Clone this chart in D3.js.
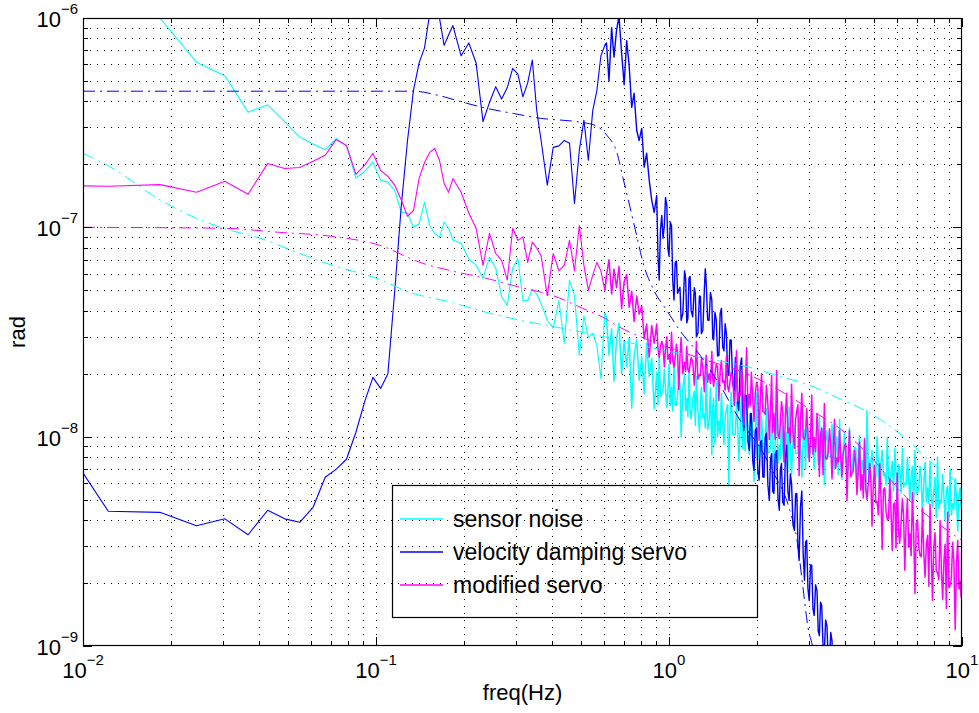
<!DOCTYPE html>
<html><head><meta charset="utf-8">
<script src="https://cdn.jsdelivr.net/npm/d3@7"></script>
<style>
body{margin:0;background:#fff}
text{font-family:"Liberation Sans",Arial,Helvetica,sans-serif;fill:#000}
</style>
</head><body>
<svg id="chart" width="979" height="713"></svg>
<script>
// ---------------- data ----------------
const freq = [
0.0061,0.0122,0.0183,0.0244,0.0305,0.0366,0.0427,0.0488,0.0549,0.0610,
0.0671,0.0732,0.0793,0.0854,0.0915,0.0976,0.1037,0.1098,0.1159,0.1220,
0.1281,0.1342,0.1403,0.1464,0.1525,0.1586,0.1647,0.1708,0.1769,0.1830,
0.1952,0.2074,0.2196,0.2318,0.2440,0.2562,0.2684,0.2806,0.2928,0.3050,
0.3172,0.3294,0.3416,0.3538,0.3660,
0.3843,0.4026,0.4209,0.4392,0.4575,0.4758,0.4941,0.5124,0.5307,0.5490,0.5673,0.5856,0.6039,
0.612,0.624,0.637,0.649,0.662,0.675,0.689,0.703,0.717,0.731,
0.746,0.760,0.776,0.791,0.807,0.823,0.839,0.856,0.873,0.890,
0.908,0.926,0.945,0.964,0.983,1.00,1.02,1.04,1.06,1.08,
1.10,1.13,1.15,1.17,1.19,1.22,1.24,1.27,1.29,1.32,
1.34,1.37,1.40,1.42,1.45,1.48,1.51,1.54,1.57,1.60,
1.63,1.67,1.70,1.73,1.77,1.80,1.84,1.88,1.91,1.95,
1.99,2.03,2.07,2.11,2.15,2.20,2.24,2.28,2.33,2.38,
2.42,2.47,2.52,2.57,2.62,2.68,2.73,2.78,2.84,2.90,
2.95,3.01,3.07,3.13,3.20,3.26,3.32,3.39,3.46,3.53,
3.60,3.67,3.74,3.82,3.89,3.97,4.05,4.13,4.21,4.30,
4.38,4.47,4.56,4.65,4.74,4.84,4.93,5.03,5.13,5.24,
5.34,5.45,5.56,5.67,5.78,5.90,6.01,6.13,6.26,6.38,
6.51,6.64,6.77,6.91,7.05,7.19,7.33,7.48,7.63,7.78,
7.93,8.09,8.25,8.42,8.59,8.76,8.93,9.11,9.29,9.48,
9.67,9.86,10.0
];

const sensorNoise = [
2.0e-6,1.4e-6,1.0e-6,6.15e-7,5.3e-7,3.55e-7,3.85e-7,3.2e-7,2.7e-7,2.5e-7,
2.35e-7,2.65e-7,2.45e-7,1.72e-7,1.85e-7,2.05e-7,1.68e-7,1.64e-7,1.5e-7,1.18e-7,
1.17e-7,1.0e-7,1.04e-7,1.32e-7,1.02e-7,9.35e-8,8.95e-8,1.06e-7,9.9e-8,8.7e-8,
8.4e-8,7.05e-8,6.6e-8,5.7e-8,7.2e-8,6.4e-8,4.67e-8,4.24e-8,6.4e-8,7.1e-8,4.47e-8,4.47e-8,5.05e-8,4.8e-8,4.33e-8,
3.6e-8,3.3e-8,4.47e-8,2.79e-8,5.58e-8,4.72e-8,2.45e-8,3.78e-8,2.98e-8,3.12e-8,2.73e-8,1.9e-8,3.9e-8,
3.7e-8,2.45e-8,3.28e-8,1.84e-8,2.9e-8,3.48e-8,2.0e-8,2.85e-8,2.16e-8,2.95e-8,
1.37e-8,2.43e-8,2.9e-8,1.86e-8,2.4e-8,1.61e-8,2.8e-8,1.94e-8,2.37e-8,1.36e-8,
2.03e-8,2.43e-8,1.61e-8,2.1e-8,1.38e-8,2.22e-8,1.72e-8,2.37e-8,1.41e-8,1.88e-8,
1.0e-8,2.0e-8,1.52e-8,2.12e-8,1.22e-8,1.65e-8,1.94e-8,1.05e-8,1.72e-8,1.28e-8,
2.03e-8,1.17e-8,8.2e-9,1.52e-8,1.82e-8,1.19e-8,1.61e-8,9.2e-9,1.35e-8,5.85e-9,
1.63e-8,1.02e-8,1.46e-8,7.7e-9,1.66e-8,1.12e-8,1.43e-8,8.2e-9,1.25e-8,6.1e-9,
1.61e-8,9.1e-9,1.25e-8,6.9e-9,1.36e-8,8.4e-9,1.14e-8,5.5e-9,1.38e-8,9.1e-9,
1.22e-8,7.5e-9,1.05e-8,1.39e-8,6.6e-9,1.13e-8,8.3e-9,1.24e-8,6.4e-9,1.08e-8,
1.32e-8,8.0e-9,1.15e-8,7.0e-9,9.8e-9,1.24e-8,8.6e-9,5.9e-9,1.07e-8,8.0e-9,
1.14e-8,7.0e-9,1.0e-8,1.21e-8,6.25e-9,1.05e-8,7.9e-9,1.1e-8,6.8e-9,8.9e-9,
5.5e-9,1.01e-8,7.7e-9,9.6e-9,1.33e-8,6.1e-9,8.6e-9,6.7e-9,1.0e-8,5.35e-9,
8.6e-9,6.7e-9,9.9e-9,5.85e-9,7.6e-9,8.8e-9,4.85e-9,7.1e-9,8.8e-9,6.0e-9,
7.95e-9,5.0e-9,7.2e-9,8.6e-9,5.4e-9,7.2e-9,4.15e-9,7.55e-9,5.7e-9,7.6e-9,
4.6e-9,6.4e-9,7.9e-9,4.96e-9,6.6e-9,3.95e-9,5.8e-9,7.0e-9,4.8e-9,6.3e-9,
3.54e-9,5.7e-9,4.44e-9
];

const velocityServo = [
1.92e-8,4.4e-9,4.35e-9,3.75e-9,4.05e-9,3.4e-9,4.45e-9,4.05e-9,3.9e-9,4.6e-9,
6.4e-9,7.0e-9,7.8e-9,1.05e-8,1.47e-8,1.92e-8,1.7e-8,2.0e-8,5.0e-8,1.27e-7,
2.6e-7,4.5e-7,6.1e-7,7.2e-7,1.05e-6,1.15e-6,1.0e-6,7.4e-7,8.3e-7,9.2e-7,
6.6e-7,7.6e-7,6.1e-7,3.2e-7,3.95e-7,4.7e-7,4.1e-7,4.65e-7,5.75e-7,5.4e-7,4.2e-7,4.9e-7,6.3e-7,3.6e-7,2.6e-7,
1.59e-7,2.41e-7,2.45e-7,2.6e-7,2.52e-7,1.3e-7,2.33e-7,3.25e-7,2.09e-7,3.6e-7,4.5e-7,6.6e-7,7.4e-7,
7.6e-7,5.0e-7,9.0e-7,6.5e-7,8.7e-7,1.02e-6,6.8e-7,4.8e-7,7.8e-7,5.95e-7,
3.74e-7,4.37e-7,2.9e-7,2.6e-7,2.97e-7,1.94e-7,2.26e-7,1.68e-7,1.35e-7,1.18e-7,
1.42e-7,5.6e-8,1.14e-7,1.02e-7,1.27e-7,7.3e-8,1.02e-7,4.5e-8,6.9e-8,5.0e-8,
3.6e-8,6.2e-8,3.5e-8,5.7e-8,4.0e-8,5.15e-8,3.0e-8,4.7e-8,3.1e-8,5.0e-8,
5.4e-8,3.6e-8,4.5e-8,2.9e-8,3.6e-8,2.44e-8,4.1e-8,2.57e-8,3.1e-8,1.96e-8,
2.9e-8,1.66e-8,2.3e-8,1.33e-8,2.38e-8,1.07e-8,1.57e-8,8.6e-9,1.29e-8,6.9e-9,
1.1e-8,6.2e-9,9.6e-9,6.4e-9,1.04e-8,4.95e-9,8.3e-9,5.35e-9,8.6e-9,4.45e-9,
7.45e-9,4.7e-9,9.1e-9,4.95e-9,6.0e-9,3.57e-9,5.35e-9,2.56e-9,5.5e-9,2.06e-9,
3.2e-9,1.65e-9,2.43e-9,1.4e-9,1.84e-9,1.12e-9,1.56e-9,9.5e-10,1.25e-9,8.5e-10,
1.06e-9,6.8e-10,9.0e-10,5.5e-10
];

const modifiedServo = [
1.6e-7,1.57e-7,1.6e-7,1.47e-7,1.66e-7,1.44e-7,2.02e-7,1.91e-7,1.93e-7,2.07e-7,
2.21e-7,2.63e-7,2.46e-7,1.79e-7,1.98e-7,2.26e-7,1.87e-7,1.75e-7,1.59e-7,1.35e-7,
1.13e-7,1.2e-7,1.71e-7,2.04e-7,2.28e-7,2.38e-7,2.09e-7,1.62e-7,1.47e-7,1.71e-7,
1.47e-7,1.17e-7,9.9e-8,6.58e-8,9.36e-8,7.5e-8,6.95e-8,5.6e-8,9.9e-8,8.66e-8,9.0e-8,6.8e-8,8.5e-8,7.96e-8,7.3e-8,
4.72e-8,7.5e-8,6.2e-8,6.58e-8,8.66e-8,6.2e-8,1.02e-7,6.58e-8,5.0e-8,5.9e-8,6.8e-8,6.2e-8,5.0e-8,
5.9e-8,7.0e-8,4.8e-8,6.3e-8,5.15e-8,6.5e-8,4.1e-8,5.5e-8,5.95e-8,4.15e-8,
4.95e-8,3.55e-8,4.7e-8,3.85e-8,4.2e-8,2.95e-8,3.45e-8,2.4e-8,3.4e-8,2.8e-8,
3.45e-8,2.39e-8,2.85e-8,2.16e-8,3.0e-8,2.45e-8,3.15e-8,2.15e-8,2.76e-8,1.68e-8,
2.98e-8,2.27e-8,2.7e-8,2.03e-8,2.39e-8,1.76e-8,2.85e-8,1.98e-8,2.37e-8,1.64e-8,
2.45e-8,2.0e-8,2.55e-8,1.74e-8,2.22e-8,1.49e-8,2.31e-8,1.85e-8,2.42e-8,1.64e-8,
2.03e-8,1.41e-8,2.58e-8,1.61e-8,2.07e-8,1.14e-8,2.67e-8,1.59e-8,2.03e-8,1.18e-8,
1.82e-8,9.6e-9,2.0e-8,1.31e-8,1.76e-8,9.7e-9,1.96e-8,1.29e-8,2.07e-8,9.8e-9,
1.47e-8,7.6e-9,1.61e-8,1.1e-8,1.78e-8,8.8e-9,1.33e-8,6.5e-9,1.61e-8,9.7e-9,
1.36e-8,7.6e-9,1.58e-8,9.9e-9,1.29e-8,6.45e-9,1.1e-8,1.44e-8,7.8e-9,1.09e-8,
6.3e-9,1.21e-8,7.9e-9,1.07e-8,6.45e-9,9.0e-9,4.96e-9,1.07e-8,6.7e-9,8.6e-9,
5.3e-9,9.4e-9,6.6e-9,9.8e-9,5.0e-9,7.45e-9,3.73e-9,7.3e-9,4.9e-9,7.45e-9,
2.9e-9,5.7e-9,4.0e-9,6.3e-9,2.86e-9,4.85e-9,6.7e-9,3.1e-9,5.05e-9,2.3e-9,
5.05e-9,3.45e-9,5.4e-9,1.78e-9,4.0e-9,2.7e-9,4.55e-9,2.13e-9,3.37e-9,4.74e-9,
1.65e-9,3.48e-9,2.25e-9,3.98e-9,1.67e-9,3.06e-9,4.35e-9,1.95e-9,3.13e-9,1.2e-9,
3.2e-9,2.03e-9,3.48e-9
];

// extra in-between frequency bins of the dense high-frequency part
const freqMid = [
0.917,0.935,0.954,0.973,0.991,1.01,1.03,1.05,1.07,1.09,
1.115,1.14,1.16,1.18,1.205,1.23,1.255,1.28,1.305,1.33,
1.355,1.385,1.41,1.435,1.465,1.495,1.525,1.555,1.585,1.615,
1.65,1.685,1.715,1.75,1.785,1.82,1.86,1.895,1.93,1.97,
2.01,2.05,2.09,2.13,2.175,2.22,2.26,2.305,2.355,2.40,
2.445,2.495,2.545,2.595,2.65,2.705,2.755,2.81,2.87,2.925,
2.98,3.04,3.10,3.165,3.23,3.29,3.355,3.425,3.495,3.565,
3.635,3.705,3.78,3.855,3.93,4.01,4.09,4.17,4.255,4.34,
4.425,4.515,4.605,4.695,4.79,4.885,4.98,5.08,5.185,5.29,
5.395,5.505,5.615,5.725,5.84,5.955,6.07,6.195,6.32,6.445,
6.575,6.705,6.84,6.98,7.12,7.26,7.405,7.555,7.705,7.855,
8.01,8.17,8.335,8.505,8.675,8.845,9.02,9.2,9.385,9.575,
9.765,9.93
];
const sensorNoiseMid = [
1.42e-8,1.56e-8,1.66e-8,1.71e-8,1.62e-8,1.41e-8,1.33e-8,1.42e-8,1.59e-8,1.8e-8,
1.69e-8,1.33e-8,1.25e-8,1.34e-8,1.51e-8,1.13e-8,1.33e-8,1.44e-8,1.23e-8,1.1e-8,
1.08e-8,1.71e-8,1.39e-8,9.2e-9,1.0e-8,1.03e-8,1.18e-8,1.23e-8,1.42e-8,1.21e-8,
1.03e-8,1.02e-8,1.17e-8,1.1e-8,8.76e-9,8.55e-9,9.86e-9,1.02e-8,1.11e-8,9.86e-9,
7.8e-9,8.6e-9,9.5e-9,9.4e-9,8.45e-9,8.85e-9,1.08e-8,9.7e-9,7.5e-9,7.8e-9,
8.65e-9,9.5e-9,6.8e-9,8.7e-9,9.5e-9,8.3e-9,8.3e-9,9.1e-9,9.9e-9,7.0e-9,
7.96e-9,8.7e-9,9.0e-9,9.8e-9,7.37e-9,7.67e-9,1.09e-8,9.55e-9,8.1e-9,8.0e-9,
8.25e-9,8.5e-9,6.6e-9,8.0e-9,8.25e-9,7.55e-9,6.9e-9,7.4e-9,8.25e-9,8.85e-9,
8.1e-9,6.6e-9,6.75e-9,5.5e-9,6.9e-9,7.4e-9,7.04e-9,6.4e-9,7.15e-9,7.4e-9,
6.5e-9,5.9e-9,6.3e-9,6.77e-9,5.5e-9,6.65e-9,7.4e-9,5.38e-9,5.73e-9,5.9e-9,
6.25e-9,6.4e-9,4.83e-9,5.35e-9,5.7e-9,6.3e-9,5.98e-9,4.88e-9,4.8e-9,5.12e-9,
5.45e-9,4.1e-9,4.55e-9,4.85e-9,5.18e-9,5.52e-9,3.96e-9,4.22e-9,4.52e-9,5.12e-9,
5.28e-9,4.63e-9
];
const velocityServoMid = [
7.3e-8,9.7e-8,8.87e-8,1.39e-7,7.95e-8,1.06e-7,5.56e-8,6.8e-8,4.84e-8,5.17e-8,
3.88e-8,5.7e-8,3.68e-8,5.83e-8,3.74e-8,4.84e-8,3.12e-8,4.68e-8,3.24e-8,6.34e-8,
3.61e-8,4.89e-8,2.95e-8,3.93e-8,2.43e-8,3.88e-8,2.68e-8,3.46e-8,2.03e-8,2.9e-8,
1.8e-8,2.39e-8,1.44e-8,2.18e-8,1.31e-8,1.58e-8,9.55e-9,1.29e-8,7.75e-9,1.07e-8,
6.8e-9,9.4e-9,6.43e-9,9.9e-9,5.9e-9,7.8e-9,5.48e-9,8.27e-9,5.07e-9,7.0e-9,
4.86e-9,7.96e-9,5.51e-9,6.63e-9,3.79e-9,5.33e-9,3.04e-9,4.6e-9,2.77e-9,3.13e-9,
1.88e-9,2.44e-9,1.51e-9,1.96e-9,1.18e-9,1.62e-9,1.0e-9,1.33e-9,8.5e-10,1.16e-9,
7.0e-10,9.6e-10,5.8e-10
];
const modifiedServoMid = [
2.63e-8,2.7e-8,2.72e-8,2.62e-8,2.34e-8,2.23e-8,2.3e-8,2.39e-8,2.5e-8,2.39e-8,
2.0e-8,2.05e-8,2.09e-8,2.19e-8,2.29e-8,2.07e-8,1.88e-8,1.96e-8,2.11e-8,2.1e-8,
1.82e-8,1.8e-8,1.9e-8,1.99e-8,2.15e-8,2.07e-8,1.82e-8,1.67e-8,1.74e-8,1.83e-8,
1.93e-8,1.7e-8,1.48e-8,1.57e-8,1.82e-8,1.65e-8,1.37e-8,1.4e-8,1.56e-8,1.6e-8,
1.72e-8,1.55e-8,1.32e-8,1.28e-8,1.43e-8,1.32e-8,1.05e-8,9.7e-9,1.04e-8,1.18e-8,
1.31e-8,1.24e-8,1.04e-8,9.3e-9,1.03e-8,1.21e-8,1.42e-8,1.19e-8,9.9e-9,1.02e-8,
1.05e-8,9.8e-9,8.25e-9,8.5e-9,1.01e-8,1.02e-8,6.6e-9,7.85e-9,8.45e-9,9.1e-9,
8.55e-9,7.05e-9,7.56e-9,8.13e-9,8.3e-9,9.27e-9,7.9e-9,6.44e-9,6.87e-9,7.36e-9,
6.86e-9,5.55e-9,5.09e-9,5.63e-9,5.97e-9,6.34e-9,5.82e-9,4.83e-9,4.22e-9,5.2e-9,
5.58e-9,4.42e-9,4.06e-9,4.37e-9,4.73e-9,2.94e-9,3.56e-9,3.86e-9,4.21e-9,3.85e-9,
2.96e-9,2.7e-9,3.52e-9,3.85e-9,2.94e-9,2.67e-9,2.76e-9,3.03e-9,1.93e-9,2.7e-9,
2.97e-9,2.26e-9,2.07e-9,2.28e-9,2.53e-9,1.51e-9,1.9e-9,2.11e-9,2.5e-9,2.46e-9,
1.87e-9,1.71e-9
];

// model curves (dash-dot)
const sensorModelFreq = [0.01,0.01266,0.0179,0.0232,0.0301,0.0402,0.0537,0.0713,0.1008,0.1306,0.179,0.239,0.31,0.415,0.595,0.861,1.276,1.894,2.39,3.02,3.81,4.74,5.81,6.78,7.95,8.87,10];
const sensorModel = [2.26e-7,1.91e-7,1.38e-7,1.14e-7,9.9e-8,8.87e-8,7.6e-8,6.57e-8,5.7e-8,4.89e-8,4.4e-8,3.92e-8,3.6e-8,3.33e-8,3.01e-8,2.67e-8,2.39e-8,2.14e-8,1.94e-8,1.76e-8,1.52e-8,1.32e-8,1.095e-8,9.15e-9,7.46e-9,6.67e-9,5.66e-9];

const velocityModelFreq = [0.01,0.135,0.163,0.2045,0.239,0.294,0.363,0.497,0.559,0.614,0.665,0.696,0.736,0.778,0.815,0.882,0.984,1.09,1.276,1.493,1.747,2.045,2.3,2.587,2.735,2.866,2.98,3.10,3.27];
const velocityModel = [4.47e-7,4.47e-7,4.27e-7,3.91e-7,3.7e-7,3.5e-7,3.32e-7,3.18e-7,3.07e-7,2.75e-7,2.26e-7,1.73e-7,1.25e-7,8.96e-8,6.8e-8,5.1e-8,4.0e-8,3.21e-8,2.45e-8,1.76e-8,1.2e-8,8.85e-9,6.53e-9,4.44e-9,3.2e-9,1.9e-9,1.23e-9,9.8e-10,6.0e-10];

const modifiedModelFreq = [0.01,0.0301,0.047,0.0713,0.1032,0.1413,0.183,0.239,0.31,0.4,0.508,0.595,0.68,0.861,1.065,1.276,1.84,2.39,3.19,3.81,4.74,6.46,10];
const modifiedModel = [1.0e-7,9.9e-8,9.46e-8,9.05e-8,8.2e-8,6.8e-8,6.17e-8,5.7e-8,5.17e-8,4.73e-8,4.1e-8,3.72e-8,3.33e-8,2.88e-8,2.58e-8,2.37e-8,2.0e-8,1.66e-8,1.29e-8,1.1e-8,8.35e-9,5.13e-9,3.2e-9];

const xTicks = [0.01, 0.1, 1, 10];
const xTickExp = ["\u22122", "\u22121", "0", "1"];
const yTicks = [1e-9, 1e-8, 1e-7, 1e-6];
const yTickExp = ["\u22129", "\u22128", "\u22127", "\u22126"];
const legendLabels = ["sensor noise", "velocity damping servo", "modified servo"];
const seriesColors = ["#00ffff", "#0000ff", "#ff00ff"];

// ---------------- drawing ----------------
const svg = d3.select("#chart");
const L = 83, T = 18, R = 962, B = 646;
const x = d3.scaleLog().domain([0.01, 10]).range([L, R]);
const y = d3.scaleLog().domain([1e-9, 1e-6]).range([B, T]);

svg.append("rect").attr("width", 979).attr("height", 713).attr("fill", "#fff");

const xGrid = [], yGrid = [];
[0.01, 0.1, 1].forEach(d => { for (let k = 1; k < 10; k++) xGrid.push(d * k); });
xGrid.push(10);
[1e-9, 1e-8, 1e-7].forEach(d => { for (let k = 1; k < 10; k++) yGrid.push(d * k); });
yGrid.push(1e-6);

const px = v => Math.round(x(v)) + 0.5;
const py = v => Math.round(y(v)) + 0.5;

const grid = svg.append("g").attr("stroke", "#000").attr("stroke-width", 1)
  .attr("stroke-dasharray", "1,6").attr("shape-rendering", "crispEdges");
xGrid.slice(1, -1).forEach(v => grid.append("line").attr("x1", px(v)).attr("x2", px(v)).attr("y1", T).attr("y2", B));
yGrid.slice(1, -1).forEach(v => grid.append("line").attr("y1", py(v)).attr("y2", py(v)).attr("x1", L).attr("x2", R));

svg.append("clipPath").attr("id", "clip").append("rect")
  .attr("x", L).attr("y", T).attr("width", R - L).attr("height", B - T);
const plot = svg.append("g").attr("clip-path", "url(#clip)");

const line = d3.line().x(d => x(d[0])).y(d => y(d[1]));
const smooth = d3.line().x(d => x(d[0])).y(d => y(d[1])).curve(d3.curveMonotoneX);

// measured spectra: merge main bins with the in-between bins, sorted by frequency
const solids = [[sensorNoise, sensorNoiseMid], [velocityServo, velocityServoMid], [modifiedServo, modifiedServoMid]];
const fSplit = 0.6039;
const hiWidths = [1.5, 1.4, 1.5];
solids.forEach(([vals, mids], i) => {
  const pts = vals.map((v, j) => [freq[j], v])
    .concat(mids.map((v, j) => [freqMid[j], v]))
    .sort((a, b) => a[0] - b[0]);
  plot.append("path").attr("d", line(pts.filter(d => d[0] <= fSplit + 0.01))).attr("fill", "none")
    .attr("stroke", seriesColors[i]).attr("stroke-width", 1.1).attr("stroke-linejoin", "round");
  plot.append("path").attr("d", line(pts.filter(d => d[0] >= fSplit))).attr("fill", "none")
    .attr("stroke", seriesColors[i]).attr("stroke-width", hiWidths[i]).attr("stroke-linejoin", "round");
});

const models = [[sensorModelFreq, sensorModel], [velocityModelFreq, velocityModel], [modifiedModelFreq, modifiedModel]];
models.forEach(([f, vals], i) => {
  const pts = vals.map((v, j) => [f[j], v]);
  plot.append("path").attr("d", smooth(pts)).attr("fill", "none")
    .attr("stroke", seriesColors[i]).attr("stroke-width", 1)
    .attr("stroke-dasharray", "12,5,2,5");
});

svg.append("rect").attr("x", L + 0.5).attr("y", T + 0.5).attr("width", R - L - 1).attr("height", B - T - 1)
  .attr("fill", "none").attr("stroke", "#000").attr("stroke-width", 1.2);

const tk = svg.append("g").attr("stroke", "#000").attr("stroke-width", 1).attr("shape-rendering", "crispEdges");
xGrid.forEach(v => {
  const len = xTicks.some(t => Math.abs(t - v) / t < 1e-6) ? 9 : 5;
  tk.append("line").attr("x1", px(v)).attr("x2", px(v)).attr("y1", B).attr("y2", B - len);
  tk.append("line").attr("x1", px(v)).attr("x2", px(v)).attr("y1", T).attr("y2", T + len);
});
yGrid.forEach(v => {
  const len = yTicks.some(t => Math.abs(t - v) / t < 1e-6) ? 9 : 5;
  tk.append("line").attr("y1", py(v)).attr("y2", py(v)).attr("x1", L).attr("x2", L + len);
  tk.append("line").attr("y1", py(v)).attr("y2", py(v)).attr("x1", R).attr("x2", R - len);
});

xTicks.forEach((v, i) => {
  const t = svg.append("text").attr("x", x(v)).attr("y", B + 32).attr("text-anchor", "middle").attr("font-size", 22);
  t.append("tspan").text("10");
  t.append("tspan").attr("dy", -13).attr("font-size", 15).text(xTickExp[i]);
});
yTicks.forEach((v, i) => {
  const t = svg.append("text").attr("x", 78).attr("y", y(v) + 9).attr("text-anchor", "end").attr("font-size", 22);
  t.append("tspan").text("10");
  t.append("tspan").attr("dy", -13).attr("font-size", 15).text(yTickExp[i]);
});

svg.append("text").attr("x", (L + R) / 2).attr("y", 700).attr("text-anchor", "middle").attr("font-size", 22).text("freq(Hz)");
svg.append("text").attr("transform", "translate(25," + ((T + B) / 2) + ") rotate(-90)")
  .attr("text-anchor", "middle").attr("font-size", 22).text("rad");

const lg = svg.append("g");
lg.append("rect").attr("x", 392.5).attr("y", 485.5).attr("width", 365).attr("height", 132)
  .attr("fill", "none").attr("stroke", "#000").attr("stroke-width", 1.2);
const rows = [519, 552, 585];
legendLabels.forEach((lab, i) => {
  lg.append("line").attr("x1", 400).attr("x2", 443).attr("y1", rows[i]).attr("y2", rows[i])
    .attr("stroke", seriesColors[i]).attr("stroke-width", 1.6);
  lg.append("text").attr("x", 453).attr("y", rows[i] + 8).attr("font-size", 23).text(lab);
});
</script>
</body></html>
